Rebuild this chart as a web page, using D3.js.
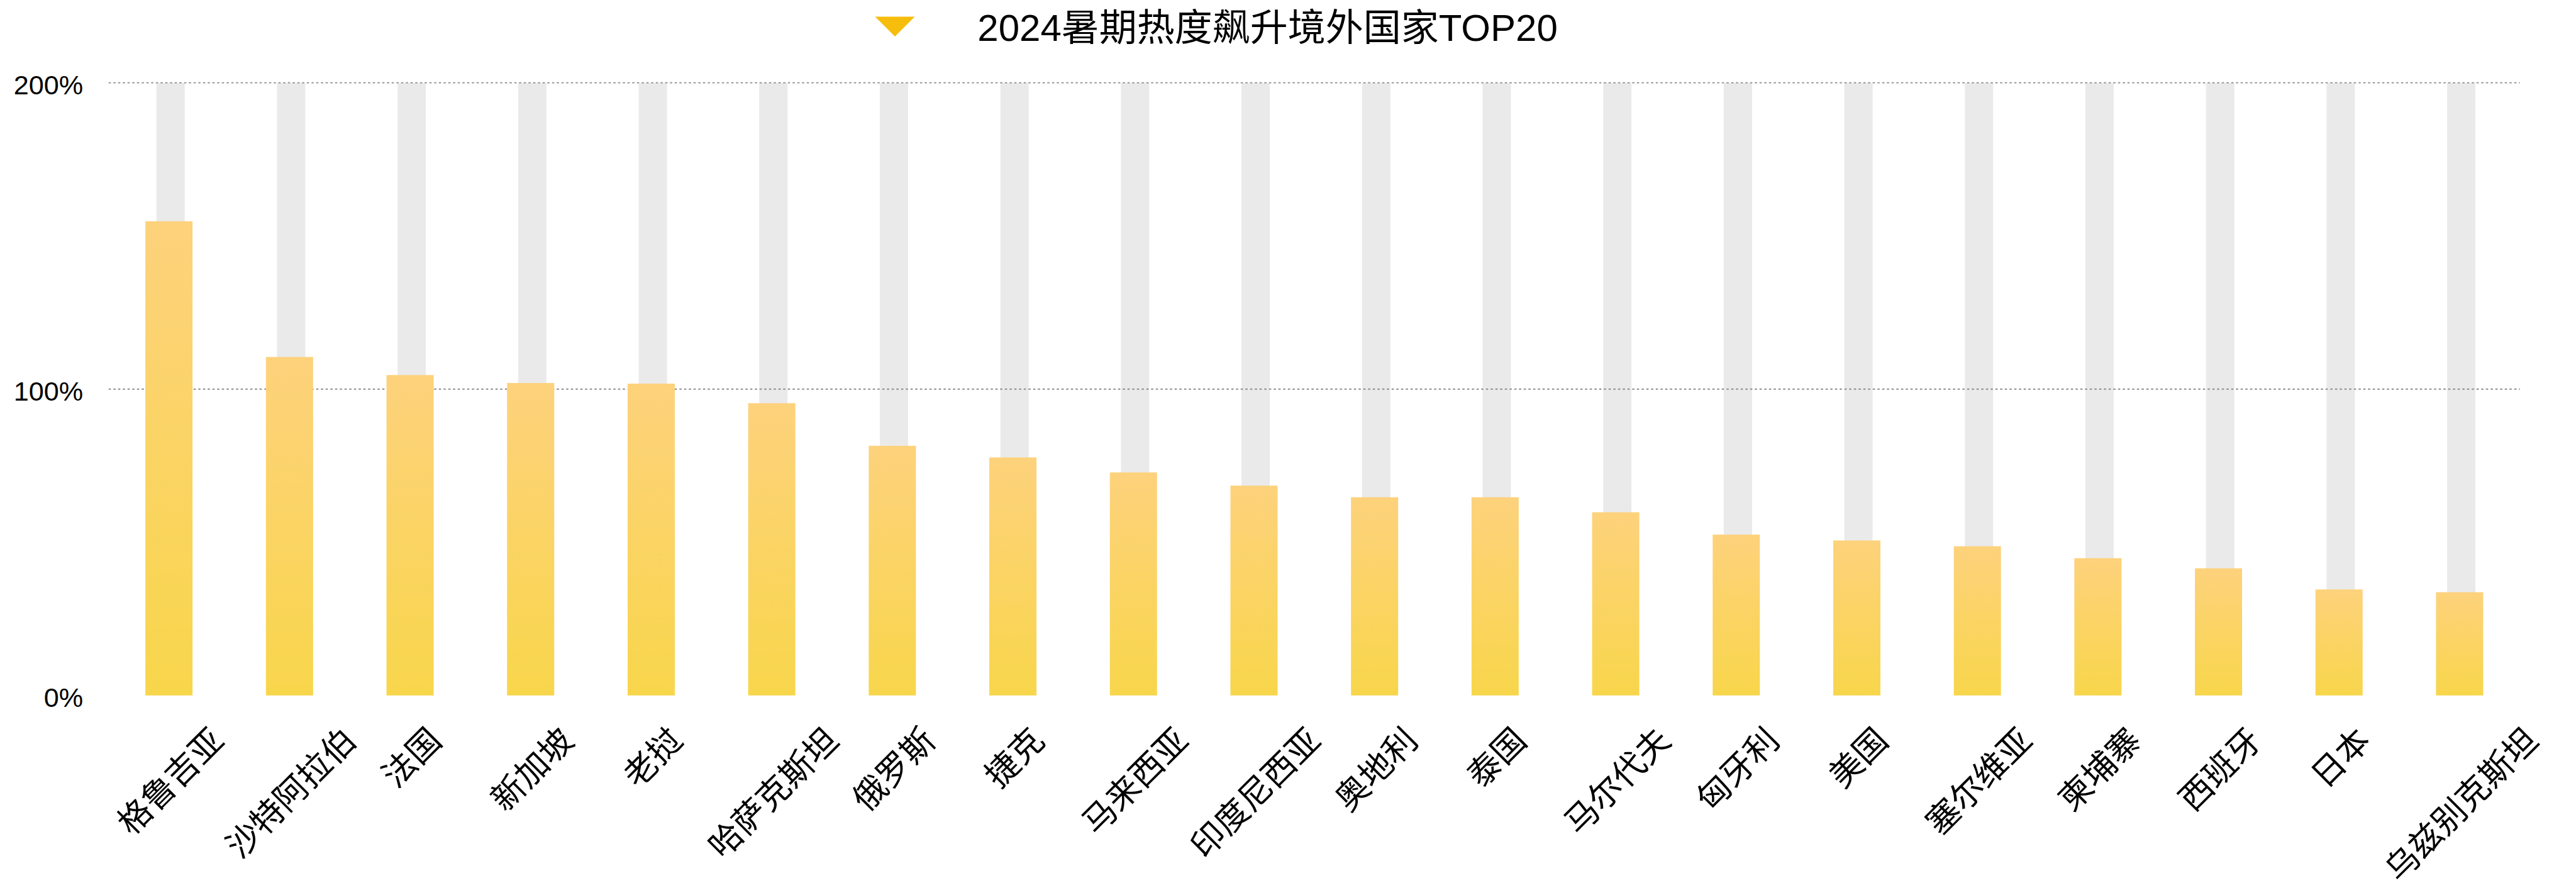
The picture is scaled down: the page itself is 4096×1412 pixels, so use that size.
<!DOCTYPE html>
<html>
<head>
<meta charset="utf-8">
<script src="https://cdn.jsdelivr.net/npm/d3@7/dist/d3.min.js"></script>
<style>
  html, body { margin: 0; padding: 0; background: #fff; }
  svg { display: block; }
  text { font-family: "Liberation Sans", "Noto Sans CJK SC", sans-serif; fill: #000; }
</style>
</head>
<body>
<svg id="chart" width="4096" height="1412"></svg>
<script>
// ---- data ----
const title = "2024暑期热度飙升境外国家TOP20";
const categories = ["格鲁吉亚","沙特阿拉伯","法国","新加坡","老挝","哈萨克斯坦","俄罗斯","捷克","马来西亚","印度尼西亚","奥地利","泰国","马尔代夫","匈牙利","美国","塞尔维亚","柬埔寨","西班牙","日本","乌兹别克斯坦"];
const values = [154.8, 110.5, 104.6, 102, 101.8, 95.4, 81.5, 77.7, 72.8, 68.5, 64.7, 64.7, 59.8, 52.5, 50.6, 48.7, 44.8, 41.5, 34.6, 33.7];
const backgroundMax = 200;
const yTicks = [0, 100, 200];
const gridTicks = [100, 200];

// ---- layout ----
const W = 4096, H = 1412;
const plotLeft = 172.8, plotRight = 4006.8;
const yTop = 131.7, yBottom = 1105.8;
const barW = 75, bgW = 45, bgOffset = 2.6;
const labelFont = 52.9, yLabelFont = 43.2;

const svg = d3.select("#chart");

const defs = svg.append("defs");
const grad = defs.append("linearGradient").attr("id", "barGrad")
  .attr("x1", 0).attr("y1", 0).attr("x2", 0).attr("y2", 1);
grad.append("stop").attr("offset", "0%").attr("stop-color", "#FDD27C");
grad.append("stop").attr("offset", "100%").attr("stop-color", "#F8D64B");

const x = d3.scaleBand().domain(categories).range([plotLeft, plotRight]).padding(0);
const y = d3.scaleLinear().domain([0, 200]).range([yBottom, yTop]);
const cx = c => x(c) + x.bandwidth() / 2;

// background bars
svg.append("g").selectAll("rect").data(categories).join("rect")
  .attr("x", c => cx(c) + bgOffset - bgW / 2)
  .attr("y", y(backgroundMax))
  .attr("width", bgW)
  .attr("height", y(0) - y(backgroundMax))
  .attr("fill", "#EAEAEA");

// gridlines
svg.append("g").selectAll("line").data(gridTicks).join("line")
  .attr("x1", plotLeft).attr("x2", plotRight)
  .attr("y1", d => y(d)).attr("y2", d => y(d))
  .attr("stroke", "#8a8a8a").attr("stroke-width", 1.8)
  .attr("stroke-dasharray", "3.5,4");

// value bars
svg.append("g").selectAll("rect").data(categories).join("rect")
  .attr("x", c => cx(c) - barW / 2)
  .attr("y", (c, i) => y(values[i]))
  .attr("width", barW)
  .attr("height", (c, i) => y(0) - y(values[i]))
  .attr("fill", "url(#barGrad)");

// y axis labels
const yAxis = d3.axisLeft(y).tickValues(yTicks).tickSize(0).tickPadding(0)
  .tickFormat(d => d + "%");
const yg = svg.append("g").attr("transform", `translate(132.2,0)`).call(yAxis);
yg.select(".domain").remove();
yg.selectAll("text").attr("font-size", yLabelFont).attr("dy", "0.42em")
  .attr("font-family", "'Liberation Sans', 'Noto Sans CJK SC', sans-serif").attr("fill", "#000");

// x axis labels (rotated -45 about their centre; top of box at fixed y)
const labelTop = yBottom + 43;
const xl = svg.append("g");
categories.forEach(c => {
  const t = xl.append("text")
    .attr("font-size", labelFont)
    .attr("text-anchor", "middle")
    .attr("dominant-baseline", "central")
    .text(c);
  const L = t.node().getComputedTextLength();
  const ccx = cx(c) + 2.6;
  const ccy = labelTop + (L + labelFont) / (2 * Math.SQRT2);
  t.attr("x", ccx).attr("y", ccy).attr("transform", `rotate(-45,${ccx},${ccy})`);
});

// legend / title
const triCx = 1423, triTop = 26.4, triBottom = 57.9, triHalf = 31.5;
svg.append("path")
  .attr("d", d3.line()([[triCx - triHalf, triTop], [triCx + triHalf, triTop], [triCx, triBottom]]) + "Z")
  .attr("fill", "#F6BD0C");
svg.append("text")
  .attr("x", 1554.3).attr("y", 65.2)
  .attr("font-size", 60)
  .text(title);
</script>
</body>
</html>
